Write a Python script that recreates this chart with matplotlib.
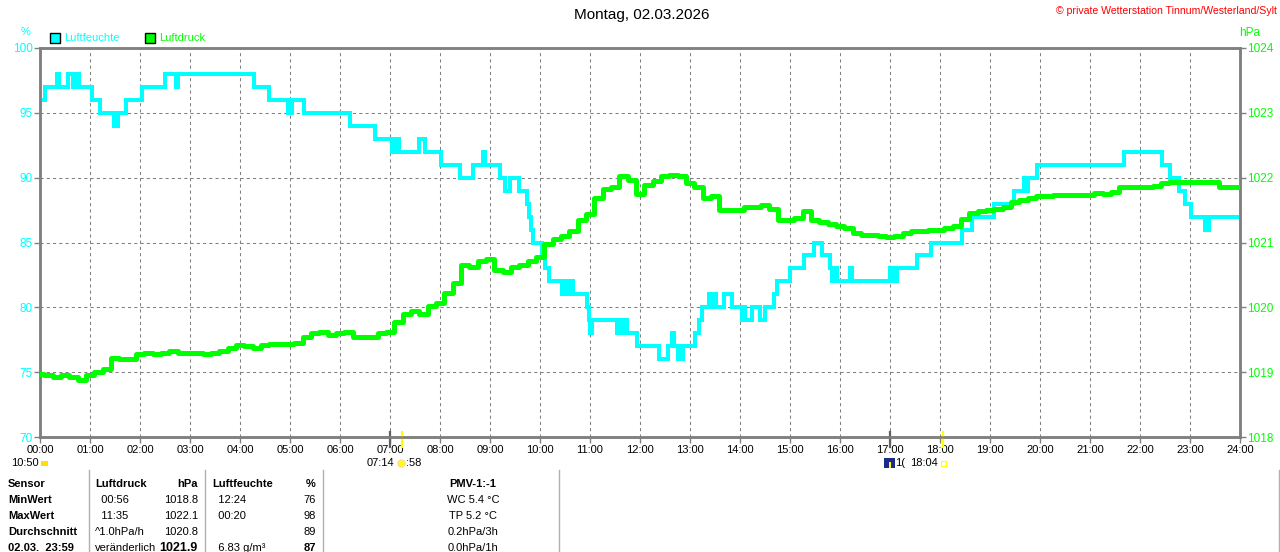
import matplotlib
matplotlib.use('Agg')
import matplotlib.pyplot as plt
import matplotlib.transforms as mtransforms
from matplotlib.lines import Line2D
from matplotlib.patches import Rectangle

plt.rcParams['font.family'] = ['Liberation Sans', 'DejaVu Sans']

# ---------------- data ----------------
title = "Montag, 02.03.2026"
copyright_text = "\u00a9 private Wetterstation Tinnum/Westerland/Sylt"
hour_labels = [f"{h:02d}:00" for h in range(25)]
hum_ticks = [70, 75, 80, 85, 90, 95, 100]
pres_ticks = [1018, 1019, 1020, 1021, 1022, 1023, 1024]

# humidity (%) : value holds from time (h) until next entry
hum_times = [0.00, 0.10, 0.33, 0.37, 0.55, 0.65, 0.72, 0.78, 1.03, 1.20, 1.47, 1.56, 1.71,
             2.03, 2.50, 2.72, 2.76, 4.28, 4.58, 4.96, 5.04, 5.27, 6.20, 6.70, 7.03, 7.07,
             7.10, 7.13, 7.17, 7.57, 7.70, 8.03, 8.40, 8.65, 8.85, 8.90, 9.20, 9.30, 9.40,
             9.58, 9.73, 9.78, 9.82, 9.86, 10.03, 10.10, 10.17, 10.43, 10.47, 10.52, 10.57,
             10.65, 10.93, 10.97, 11.00, 11.03, 11.53, 11.57, 11.63, 11.67, 11.73, 11.93,
             12.38, 12.55, 12.63, 12.68, 12.75, 12.78, 12.80, 12.85, 13.10, 13.17, 13.23,
             13.38, 13.43, 13.47, 13.52, 13.68, 13.83, 14.03, 14.07, 14.10, 14.23, 14.40,
             14.50, 14.67, 14.73, 15.00, 15.28, 15.47, 15.63, 15.80, 15.83, 15.87, 15.93,
             16.20, 16.24, 17.00, 17.03, 17.07, 17.10, 17.13, 17.53, 17.83, 18.43, 18.63,
             19.07, 19.47, 19.68, 19.72, 19.76, 19.93, 21.68, 22.43, 22.60, 22.78, 22.90,
             23.02, 23.30, 23.37, 24.00]
hum_values = [96, 97, 98, 97, 98, 97, 98, 97, 96, 95, 94, 95, 96,
              97, 98, 97, 98, 97, 96, 95, 96, 95, 94, 93, 92, 93,
              92, 93, 92, 93, 92, 91, 90, 91, 92, 91, 90, 89, 90,
              89, 88, 87, 86, 85, 84, 83, 82, 81, 82, 81, 82,
              81, 80, 79, 78, 79, 78, 79, 78, 79, 78, 77,
              76, 77, 78, 77, 76, 77, 76, 77, 78, 79, 80,
              81, 80, 81, 80, 81, 80, 79, 80, 79, 80, 79,
              80, 81, 82, 83, 84, 85, 84, 83, 82, 83, 82,
              83, 82, 83, 82, 83, 82, 83, 84, 85, 86, 87,
              88, 89, 90, 89, 90, 91, 92, 91, 90, 89, 88,
              87, 86, 87, 87]

# air pressure (hPa), 10-minute readings from 00:00 to 24:00
pres_values = [
    1018.97, 1018.95, 1018.93, 1018.95, 1018.93, 1018.88,
    1018.95, 1019.00, 1019.05, 1019.22, 1019.20, 1019.20,
    1019.28, 1019.30, 1019.28, 1019.30, 1019.32, 1019.30,
    1019.30, 1019.30, 1019.28, 1019.30, 1019.32, 1019.38,
    1019.42, 1019.40, 1019.38, 1019.42, 1019.43, 1019.43,
    1019.43, 1019.45, 1019.55, 1019.60, 1019.62, 1019.58,
    1019.60, 1019.62, 1019.55, 1019.55, 1019.55, 1019.60,
    1019.62, 1019.78, 1019.90, 1019.95, 1019.90, 1020.02,
    1020.07, 1020.22, 1020.38, 1020.65, 1020.62, 1020.72,
    1020.75, 1020.58, 1020.55, 1020.62, 1020.65, 1020.72,
    1020.78, 1020.98, 1021.05, 1021.10, 1021.17, 1021.35,
    1021.44, 1021.68, 1021.82, 1021.85, 1022.02, 1021.96,
    1021.75, 1021.88, 1021.95, 1022.02, 1022.04, 1022.02,
    1021.92, 1021.85, 1021.68, 1021.72, 1021.50, 1021.50,
    1021.50, 1021.55, 1021.55, 1021.58, 1021.52, 1021.35,
    1021.35, 1021.38, 1021.48, 1021.35, 1021.32, 1021.28,
    1021.25, 1021.22, 1021.15, 1021.12, 1021.12, 1021.10,
    1021.08, 1021.10, 1021.15, 1021.18, 1021.18, 1021.20,
    1021.20, 1021.22, 1021.25, 1021.37, 1021.45, 1021.48,
    1021.50, 1021.52, 1021.55, 1021.62, 1021.66, 1021.68,
    1021.72, 1021.72, 1021.73, 1021.74, 1021.73, 1021.74,
    1021.74, 1021.76, 1021.75, 1021.78, 1021.85, 1021.86,
    1021.85, 1021.86, 1021.87, 1021.92, 1021.94, 1021.94,
    1021.94, 1021.93, 1021.94, 1021.93, 1021.86, 1021.86,
    1021.85]
pres_times = [i / 6 for i in range(len(pres_values))]

sun_times = [7 + 14 / 60, 18 + 4 / 60]     # sunrise / sunset (yellow marks)
mark_times = [7, 17]                          # grey marks

# statistics table
table_header = ["Sensor", "Luftdruck", "hPa", "Luftfeuchte", "%", "PMV-1:-1"]
row_labels = ["MinWert", "MaxWert", "Durchschnitt", "02.03.  23:59"]
pres_info = ["  00:56", "  11:35", "^1.0hPa/h", "veränderlich"]
pres_stat = ["1018.8", "1022.1", "1020.8", "1021.9"]
hum_info = ["  12:24", "  00:20", "", "  6.83 g/m\u00b3"]
hum_stat = ["76", "98", "89", "87"]
pmv_info = ["WC 5.4 \u00b0C", "TP 5.2 \u00b0C", "0.2hPa/3h", "0.0hPa/1h"]

# ---------------- figure ----------------
W, H = 1280, 552
CYAN = '#00FFFF'
GREEN = '#00FF00'
GREY = '#808080'

fig = plt.figure(figsize=(W / 100, H / 100), dpi=100)
fig.patch.set_facecolor('white')
px = mtransforms.Affine2D().scale(1 / W, -1 / H).translate(0, 1) + fig.transFigure

L, R, T, B = 40, 1240, 48, 437
ax = fig.add_axes([L / W, (H - B) / H, (R - L) / W, (B - T) / H])
ax.set_xlim(0, 24)
ax.set_ylim(70, 100)
ax2 = ax.twinx()
ax2.set_ylim(1018, 1024)

ax.set_xticks(range(25))
ax.set_xticklabels(hour_labels)
ax.set_yticks(hum_ticks)
ax.set_yticklabels([str(v) for v in hum_ticks])
ax2.set_yticks(pres_ticks)
ax2.set_yticklabels([str(v) for v in pres_ticks])

ax.grid(True, color=GREY, linestyle=(0, (3, 3)), linewidth=0.75)
ax.set_axisbelow(True)

for a in (ax, ax2):
    for s in a.spines.values():
        s.set_color(GREY)
        s.set_linewidth(1.8)

ax.tick_params(axis='x', direction='out', length=4, width=1, color=GREY,
               labelsize=8, labelcolor='black', pad=2)
ax.tick_params(axis='y', direction='out', length=4, width=1, color=GREY,
               labelsize=8.5, labelcolor=CYAN, pad=1)
ax2.tick_params(axis='y', direction='out', length=4, width=1, color=GREY,
                labelsize=8.5, labelcolor=GREEN, pad=1)

ax.step(hum_times, hum_values, where='post', color=CYAN, linewidth=2.9,
        solid_joinstyle='miter', zorder=3)
ax2.plot(pres_times, pres_values, drawstyle='steps-mid', color=GREEN,
         linewidth=3.6, zorder=4)

# sun / marker ticks at the x axis
bt = mtransforms.blended_transform_factory(ax.transData, ax.transAxes)
for t in mark_times:
    ax.add_line(Line2D([t, t], [-0.026, 0.012], transform=bt, color='#606060',
                       linewidth=1.6, clip_on=False, zorder=6))
for t in sun_times:
    ax.add_line(Line2D([t, t], [-0.026, 0.012], transform=bt, color='#FFFF00',
                       linewidth=1.6, clip_on=False, zorder=6))

# ---------------- texts ----------------
fig.text(642, 15, title, transform=px, ha='center', va='center', fontsize=11)
fig.text(1277, 11, copyright_text, transform=px, ha='right', va='center',
         fontsize=7.6, color='#FF0000')
fig.text(26, 32, "%", transform=px, ha='center', va='center', fontsize=8, color=CYAN)
fig.text(1250, 33, "hPa", transform=px, ha='center', va='center', fontsize=8.5, color=GREEN)

fig.add_artist(Rectangle((50, 33), 10, 10, transform=px, facecolor=CYAN,
                         edgecolor='black', linewidth=1))
fig.text(64, 38, "Luftfeuchte", transform=px, ha='left', va='center', fontsize=8, color=CYAN)
fig.add_artist(Rectangle((145, 33), 10, 10, transform=px, facecolor=GREEN,
                         edgecolor='black', linewidth=1))
fig.text(159, 38, "Luftdruck", transform=px, ha='left', va='center', fontsize=8, color=GREEN)

# astro line under the x labels
fig.text(11, 463, "10:50", transform=px, ha='left', va='center', fontsize=8)
fig.add_artist(Rectangle((41, 461), 7, 5, transform=px, facecolor='#FFE000',
                         edgecolor='none'))
fig.text(394, 463, "07:14", transform=px, ha='right', va='center', fontsize=8)
fig.add_artist(plt.Circle((401.5, 463.5), 3.5, transform=px, facecolor='#FFFF00',
                          edgecolor='#FFE070'))
fig.text(406, 463, ":58", transform=px, ha='left', va='center', fontsize=8)
fig.add_artist(Rectangle((884, 458), 11, 10, transform=px, facecolor='#1C2A8A',
                         edgecolor='none'))
fig.add_artist(Rectangle((889, 462), 2, 6, transform=px, facecolor='#FFFF00',
                         edgecolor='none'))
fig.text(895, 463, "1(", transform=px, ha='left', va='center', fontsize=8)
fig.text(910, 463, "18:04", transform=px, ha='left', va='center', fontsize=8)
fig.add_artist(Rectangle((941, 461), 5, 5, transform=px, facecolor='none',
                         edgecolor='#FFFF00', linewidth=0.8))

# ---------------- statistics table ----------------
for xs in (88.5, 205, 323, 559, 1279):
    fig.add_artist(Line2D([xs, xs], [470, 552], transform=px, color='#B0B0B0',
                          linewidth=1))

rows_y = [484, 500, 516, 532, 548]
fs = 8
fig.text(8, rows_y[0], table_header[0], transform=px, ha='left', va='center',
         fontsize=fs, fontweight='bold')
fig.text(95, rows_y[0], table_header[1], transform=px, ha='left', va='center',
         fontsize=fs, fontweight='bold')
fig.text(198, rows_y[0], table_header[2], transform=px, ha='right', va='center',
         fontsize=fs, fontweight='bold')
fig.text(212, rows_y[0], table_header[3], transform=px, ha='left', va='center',
         fontsize=fs, fontweight='bold')
fig.text(316, rows_y[0], table_header[4], transform=px, ha='right', va='center',
         fontsize=fs, fontweight='bold')
fig.text(473, rows_y[0], table_header[5], transform=px, ha='center', va='center',
         fontsize=fs, fontweight='bold')

for i, y in enumerate(rows_y[1:]):
    last = (i == len(row_labels) - 1)
    fig.text(8, y, row_labels[i], transform=px, ha='left', va='center',
             fontsize=fs, fontweight='bold')
    fig.text(95, y, pres_info[i], transform=px, ha='left', va='center', fontsize=fs)
    fig.text(198, y, pres_stat[i], transform=px, ha='right', va='center',
             fontsize=fs + (1 if last else 0), fontweight='bold' if last else 'normal')
    fig.text(212, y, hum_info[i], transform=px, ha='left', va='center', fontsize=fs)
    fig.text(316, y, hum_stat[i], transform=px, ha='right', va='center',
             fontsize=fs, fontweight='bold' if last else 'normal')
    fig.text(473, y, pmv_info[i], transform=px, ha='center', va='center', fontsize=fs)

fig.savefig('out.png', dpi=100)
